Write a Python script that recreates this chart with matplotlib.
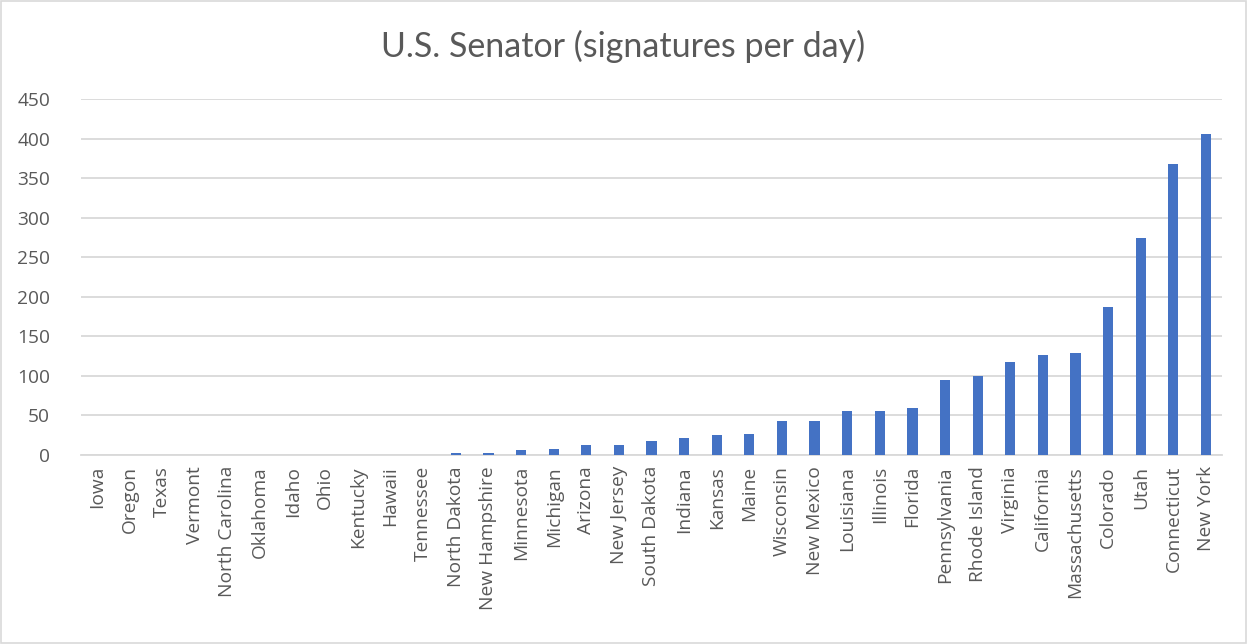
import matplotlib
matplotlib.use("Agg")
import matplotlib.pyplot as plt
from matplotlib.patches import Rectangle

states = ["Iowa", "Oregon", "Texas", "Vermont", "North Carolina", "Oklahoma",
          "Idaho", "Ohio", "Kentucky", "Hawaii", "Tennessee", "North Dakota",
          "New Hampshire", "Minnesota", "Michigan", "Arizona", "New Jersey",
          "South Dakota", "Indiana", "Kansas", "Maine", "Wisconsin",
          "New Mexico", "Louisiana", "Illinois", "Florida", "Pennsylvania",
          "Rhode Island", "Virginia", "California", "Massachusetts",
          "Colorado", "Utah", "Connecticut", "New York"]
signatures_per_day = [0, 0, 0, 0, 0, 0, 0, 0, 0.5, 0.5, 0.5, 2.5, 3, 6, 7, 12,
                      12, 17.5, 22, 25, 26.5, 42.5, 43.5, 55, 55, 59, 94.5,
                      100, 118, 126.5, 129, 187, 274, 367.5, 405.5]
y_ticks = [0, 50, 100, 150, 200, 250, 300, 350, 400, 450]
title = "U.S. Senator (signatures per day)"

text_color = "#595959"
grid_color = "#d9d9d9"
bar_color = "#4472C4"

fig = plt.figure(figsize=(12.47, 6.44), dpi=100)
fig.patch.set_facecolor("white")
fig.patches.append(Rectangle((0.0008, 0.0015), 0.9984, 0.997, transform=fig.transFigure,
                             fill=False, edgecolor=grid_color, linewidth=1.2))

ax = fig.add_axes([0.0647, 0.2935, 0.9155, 0.5528])
x = list(range(len(states)))
ax.bar(x, signatures_per_day, width=0.313, color=bar_color, zorder=3)

ax.set_xlim(-0.5, len(states) - 0.5)
ax.set_ylim(0, 450)
ax.set_yticks(y_ticks)
ax.set_yticklabels([str(v) for v in y_ticks], fontsize=13.8, color=text_color,
                   family="Open Sans")
ax.set_xticks(x)
ax.set_xticklabels(states, rotation=90, fontsize=13.8, color=text_color,
                   family="Open Sans")
ax.tick_params(axis="both", length=0)
ax.tick_params(axis="y", pad=22)
ax.tick_params(axis="x", pad=8)

ax.grid(axis="y", color=grid_color, linewidth=1.3, zorder=0)
for side in ["top", "right", "left"]:
    ax.spines[side].set_visible(False)
ax.spines["bottom"].set_color(grid_color)
ax.spines["bottom"].set_linewidth(1.3)

fig.text(0.5, 0.928, title, ha="center", va="center", fontsize=24.5,
         color=text_color, family="Lato")

fig.savefig("out.png", dpi=100)
